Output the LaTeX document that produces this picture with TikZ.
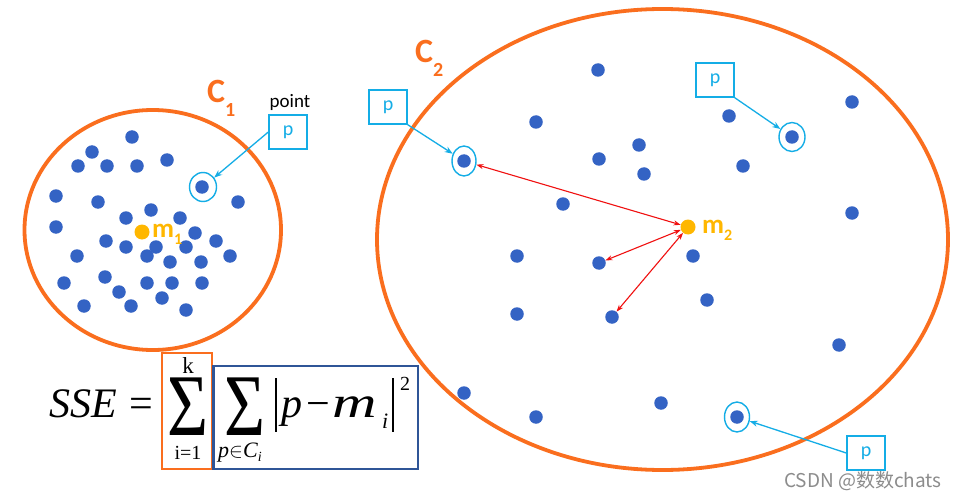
\documentclass[tikz,border=0pt]{standalone}
\usepackage{fontspec}
\usepackage{graphicx}
\setmainfont{Carlito}
\newfontfamily\tnr{Liberation Serif}
\newfontfamily\cjk{Noto Sans CJK SC}
\usetikzlibrary{shapes.geometric,arrows.meta}
\definecolor{corange}{HTML}{FA6E1E}
\definecolor{dotblue}{HTML}{3463C4}
\definecolor{gold}{HTML}{FFB700}
\definecolor{pcyan}{HTML}{14ADE6}
\definecolor{boxblue}{HTML}{2F5597}
\definecolor{rarrowc}{HTML}{F01010}
\definecolor{wmgray}{HTML}{8C8C8C}
\begin{document}
\begin{tikzpicture}[x=1pt,y=-1pt,
  dot/.style={circle,fill=dotblue,inner sep=0pt,minimum size=13.5pt},
  ctr/.style={circle,fill=gold,inner sep=0pt,minimum size=15pt},
  hl/.style={ellipse,draw=pcyan,line width=1.4pt,inner sep=0pt},
  pbox/.style={draw=pcyan,line width=1.4pt,minimum width=38pt,minimum height=34pt,inner sep=0pt,text=pcyan,font=\fontsize{20}{20}\selectfont},
  parr/.style={draw=pcyan,line width=1.3pt,-{Stealth[length=8pt,width=6pt]}},
  rarr/.style={draw=rarrowc,line width=1.1pt,{Stealth[length=7pt,width=5pt]}-{Stealth[length=7pt,width=5pt]}},
  clus/.style={ellipse,draw=corange,line width=3.8pt,inner sep=0pt},
  lbl/.style={text=corange,inner sep=0pt,anchor=base west,font=\bfseries},
  mlbl/.style={text=gold,inner sep=0pt,anchor=base west,font=\bfseries},
  fx/.style={inner sep=0pt,anchor=base},
  fxw/.style={inner sep=0pt,anchor=base west},
  bigsum/.style={inner sep=0pt,anchor=base,text depth=0pt,text height=58pt,font=\tnr\fontsize{88}{88}\selectfont}]
\useasboundingbox (0,0) rectangle (960,497);
\fill[white] (0,0) rectangle (960,497);

% clusters
\node[clus,minimum width=256.5pt,minimum height=240pt] (C1) at (152.75,230) {};
\node[clus,minimum width=571pt,minimum height=461pt] (C2) at (662.5,239.5) {};

% cluster labels
\node[lbl] (lc1) at (207,103) {{\fontsize{34}{34}\selectfont C}\raisebox{-14pt}{\fontsize{20}{20}\selectfont 1}};
\node[lbl] (lc2) at (415,63) {{\fontsize{34}{34}\selectfont C}\raisebox{-14pt}{\fontsize{20}{20}\selectfont 2}};

% cluster 1 points
\foreach \x/\y [count=\i] in {132/137,92/152,78/166,107/166,137/166,167/160,56/196,98/202,238/202,151/210,126/218,180/218,56/227,195/233,106/241,216/241,126/247,156/247,186/247,147/256,77/256,230/256,170/262,201/262,105/277,64/283,147/283,172/283,202/283,119/292,162/298,84/306,131/306,186/310}
  \node[dot] (a\i) at (\x,\y) {};
\node[dot] (hc1) at (202,187) {};
\node[ctr] (m1) at (142,232) {};
\node[mlbl] (lm1) at (152,237) {{\fontsize{27}{27}\selectfont m}\raisebox{-7pt}{\fontsize{16}{16}\selectfont 1}};

% cluster 2 points
\foreach \x/\y [count=\i] in {598/70,852/102,536/122,729/116,639/145,599/159,644/174,743/166,563/204,852/213,517/256,693/256,707/300,517/314,839/345,464/393,536/417,661/403}
  \node[dot] (b\i) at (\x,\y) {};
\node[dot] (q1) at (599,263) {};
\node[dot] (q2) at (612,317) {};
\node[dot] (hc2) at (464,161) {};
\node[dot] (hc3) at (792,137) {};
\node[dot] (hc4) at (737,417) {};
\node[ctr] (m2) at (688,227) {};
\node[mlbl] (lm2) at (702,233) {{\fontsize{27}{27}\selectfont m}\raisebox{-7pt}{\fontsize{16}{16}\selectfont 2}};

% highlight rings
\node[hl,minimum width=27pt,minimum height=29pt] (h1) at (203,187) {};
\node[hl,minimum width=24pt,minimum height=30pt] (h2) at (464,161) {};
\node[hl,minimum width=26pt,minimum height=29pt] (h3) at (792,137) {};
\node[hl,minimum width=25pt,minimum height=30pt] (h4) at (737,417) {};

% p boxes
\node[pbox] (p1) at (288,132) {p};
\node[inner sep=0pt,anchor=base,font=\fontsize{19}{19}\selectfont] (pt) at (290,108) {point};
\node[pbox] (p2) at (388,107) {p};
\node[pbox] (p3) at (715,80) {p};
\node[pbox] (p4) at (866,453) {p};

\draw[parr] (p1.west) -- (h1);
\draw[parr] (p2.south east) -- (h2);
\draw[parr] (p3.south east) -- (h3);
\draw[parr] (p4.west) -- (h4);

% red distance arrows
\draw[rarr] (m2) -- (h2);
\draw[rarr] (m2) -- (q1);
\draw[rarr] (m2) -- (q2);

% formula
\node[fx,font=\tnr\itshape\fontsize{42}{42}\selectfont] (sse) at (83,417) {SSE};
\node[fx,font=\tnr\fontsize{42}{42}\selectfont] (eq) at (141.5,417) {=};
\node[bigsum] (s1) at (187.5,435) {\scalebox{0.8}[1]{Σ}};
\node[fx,font=\tnr\fontsize{23}{23}\selectfont] (k) at (188,373) {k};
\node[fx,font=\tnr\fontsize{20}{20}\selectfont] (i1) at (188,459) {i=1};
\node[bigsum] (s2) at (245,435) {\scalebox{0.8}[1]{Σ}};
\node[fxw,font=\tnr\fontsize{22}{22}\selectfont] (pc) at (218,457) {\textit{p}$\in$\textit{C}\raisebox{-4pt}{\fontsize{14}{14}\selectfont\itshape i}};
\draw[line width=1.3pt] (276,378) -- (276,432);
\draw[line width=1.3pt] (393,378) -- (393,432);
\node[fxw,font=\tnr\itshape\fontsize{42}{42}\selectfont] (fp) at (281,417) {p};
\node[fx,font=\tnr\fontsize{42}{42}\selectfont] (fm) at (318,417) {−};
\node[fxw,font=\tnr\itshape\fontsize{44}{44}\selectfont] (fmi) at (332,417) {\scalebox{1.4}[1]{m}};
\node[fxw,font=\tnr\itshape\fontsize{22}{22}\selectfont] (fi) at (382,428) {i};
\node[fx,font=\tnr\fontsize{20}{20}\selectfont] (f2) at (405,390) {2};
\draw[corange,line width=2.4pt] (162,353) rectangle (212,469);
\draw[boxblue,line width=2.4pt] (213.5,366) rectangle (418,469);

% watermark
\node[inner sep=0pt,anchor=base west,text=wmgray,font=\cjk\fontsize{19}{19}\selectfont] (wm) at (784,487) {CSDN @数数chats};
\end{tikzpicture}
\end{document}
